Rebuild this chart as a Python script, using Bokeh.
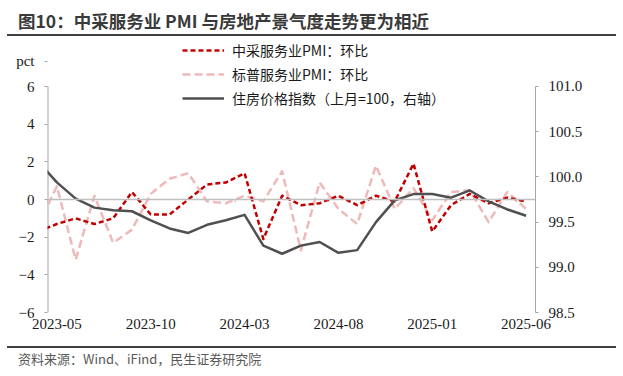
from bokeh.plotting import figure
from bokeh.models import (Range1d, LinearAxis, FixedTicker, Span, Legend, LegendItem,
                          Div, PrintfTickFormatter, ColumnDataSource)
from bokeh.layouts import column
from bokeh.embed import file_html
from bokeh.resources import INLINE

# ---------------- data ----------------
months = ["2023-04", "2023-05", "2023-06", "2023-07", "2023-08", "2023-09", "2023-10",
          "2023-11", "2023-12", "2024-01", "2024-02", "2024-03", "2024-04", "2024-05",
          "2024-06", "2024-07", "2024-08", "2024-09", "2024-10", "2024-11", "2024-12",
          "2025-01", "2025-02", "2025-03", "2025-04", "2025-05", "2025-06"]
caixin_mom = [-1.7, -1.3, -1.0, -1.3, -1.0, 0.4, -0.8, -0.8, 0.0, 0.8, 0.9, 1.4, -2.1, 0.2,
              -0.3, -0.2, 0.2, -0.3, 0.2, -0.1, 1.9, -1.7, -0.3, 0.3, -0.2, 0.1, -0.1]
sp_mom = [-1.4, 0.7, -3.2, 0.2, -2.3, -1.6, 0.3, 1.1, 1.4, -0.1, -0.2, 0.2, -0.1, 1.5,
          -2.7, 0.9, -0.5, -1.3, 1.8, -0.5, 0.6, -1.1, 0.4, 0.5, -1.2, 0.4, -0.5]
house_idx = [100.17, 99.94, 99.76, 99.66, 99.63, 99.62, 99.52, 99.43, 99.38, 99.47, 99.52,
             99.58, 99.24, 99.15, 99.24, 99.28, 99.16, 99.19, 99.50, 99.74, 99.81, 99.81,
             99.77, 99.85, 99.73, 99.64, 99.57]
x_labels = ["2023-05", "2023-10", "2024-03", "2024-08", "2025-01", "2025-06"]
left_ticks = [-6, -4, -2, 0, 2, 4, 6]
right_ticks = [98.5, 99.0, 99.5, 100.0, 100.5, 101.0]
unit_text = "pct"
unit_pos = 7.33            # where the unit sits, in left-axis units (just above the top tick)
series_names = ["中采服务业PMI：环比", "标普服务业PMI：环比", "住房价格指数（上月=100，右轴）"]
title_text = "图10：中采服务业 PMI 与房地产景气度走势更为相近"
source_text = "资料来源：Wind、iFind，民生证券研究院"

idx = list(range(len(months)))
label_pos = [months.index(m) for m in x_labels]
zero_ticks = [i + 0.5 for i in range(0, len(months), 5)]

src = ColumnDataSource(dict(x=idx, red=caixin_mom, pink=sp_mom, grey=house_idx))

SERIF = "Liberation Serif"
CJK = "Noto Sans CJK SC"
FS = "15px"
AXIS_GREY = "#A6A6A6"

x_lo, x_hi = 0.5, len(months) - 0.5
p = figure(width=623, height=310, title=None,
           x_range=Range1d(x_lo, x_hi),
           y_range=Range1d(-6, 8.602),
           output_backend="svg", toolbar_location=None,
           min_border_left=47, min_border_right=88, min_border_top=1, min_border_bottom=34,
           outline_line_color=None, margin=0)
p.extra_y_ranges = {"right": Range1d(98.5, 101.542)}
p.xgrid.visible = False
p.ygrid.visible = False

# zero line + its small ticks
p.add_layout(Span(location=0, dimension="width", line_color="#BFBFBF", line_width=1.5))
p.segment(x0=zero_ticks, y0=[0] * len(zero_ticks), x1=zero_ticks, y1=[-0.16] * len(zero_ticks),
          line_color="#BFBFBF", line_width=1)

# left axis line (only from -6 to 6), drawn on the frame's left edge
p.segment(x0=[x_lo], y0=[left_ticks[0]], x1=[x_lo], y1=[left_ticks[-1]],
          line_color=AXIS_GREY, line_width=2)

# series
r_pink = p.line("x", "pink", source=src, line_color="#F0B9B9", line_width=2.5,
                line_dash="8 4", line_join="round")
r_red = p.line("x", "red", source=src, line_color="#C00000", line_width=2.5,
               line_dash="5 3", line_join="round")
r_grey = p.line("x", "grey", source=src, y_range_name="right", line_color="#505050",
                line_width=2.5, line_join="round")

# bottom axis: labels only
xa = p.xaxis[0]
xa.ticker = FixedTicker(ticks=label_pos)
xa.major_label_overrides = {pos: lab for pos, lab in zip(label_pos, x_labels)}
xa.axis_line_color = None
xa.major_tick_line_color = None
xa.minor_tick_line_color = None
xa.major_tick_out = 0
xa.major_tick_in = 0
xa.major_label_standoff = 6
xa.major_label_text_font = SERIF
xa.major_label_text_font_size = FS
xa.major_label_text_color = "#1a1a1a"

# left axis: tick labels (+ the "pct" unit above the top tick)
ya = p.yaxis[0]
ya.ticker = FixedTicker(ticks=left_ticks + [unit_pos])
ya.major_label_overrides = {unit_pos: unit_text}
ya.bounds = (left_ticks[0], unit_pos)
ya.axis_line_color = None
ya.major_tick_line_color = AXIS_GREY
ya.minor_tick_line_color = None
ya.major_tick_in = 0
ya.major_tick_out = 3
ya.major_label_standoff = 10
ya.major_label_text_font = SERIF
ya.major_label_text_font_size = FS
ya.major_label_text_color = "#1a1a1a"

# right axis
ra = LinearAxis(y_range_name="right", ticker=FixedTicker(ticks=right_ticks),
                formatter=PrintfTickFormatter(format="%.1f"),
                bounds=(right_ticks[0], right_ticks[-1]))
ra.axis_line_color = AXIS_GREY
ra.major_tick_line_color = AXIS_GREY
ra.minor_tick_line_color = None
ra.major_tick_in = 0
ra.major_tick_out = 3
ra.major_label_standoff = 10
ra.major_label_text_font = SERIF
ra.major_label_text_font_size = FS
ra.major_label_text_color = "#1a1a1a"
p.add_layout(ra, "right")

legend = Legend(items=[LegendItem(label=series_names[0], renderers=[r_red]),
                       LegendItem(label=series_names[1], renderers=[r_pink]),
                       LegendItem(label=series_names[2], renderers=[r_grey])],
                location=(135, 204), orientation="vertical",
                glyph_width=42, glyph_height=20, label_height=20, spacing=4,
                label_standoff=8, padding=0, margin=0,
                border_line_color=None, background_fill_alpha=0,
                label_text_font=CJK, label_text_font_size="14px",
                label_text_color="#1a1a1a")
p.add_layout(legend, "center")

title_div = Div(
    text=('<div style="box-sizing:border-box;margin-left:7px;width:609px;height:36px;'
          'border-bottom:2px solid #404040;padding-left:11px;padding-top:8px;'
          f'font-family:\'{CJK}\';font-weight:bold;font-size:17.5px;line-height:26px;'
          f'color:#3a3a3a;white-space:nowrap;">{title_text}</div>'),
    width=623, height=36, margin=0)

foot_div = Div(
    text=('<div style="box-sizing:border-box;margin-left:7px;width:609px;height:30px;'
          'border-top:2px solid #404040;padding-left:11px;'
          f'font-family:\'{CJK}\';font-size:13px;line-height:22px;'
          f'color:#595959;white-space:nowrap;">{source_text}</div>'),
    width=623, height=30, margin=0)

layout = column(title_div, p, foot_div, spacing=0)

open("out.html", "w").write(file_html(layout, INLINE))
